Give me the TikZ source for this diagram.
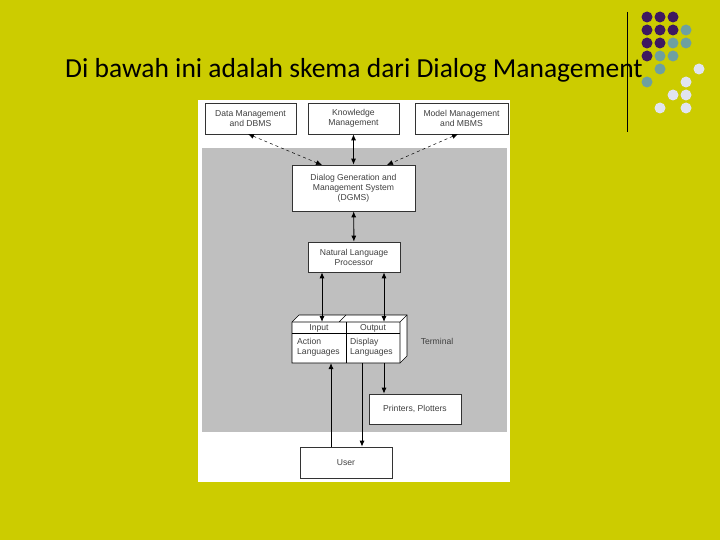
\documentclass[tikz,border=0pt]{standalone}
\usepackage{fontspec}
\usetikzlibrary{arrows.meta}
\setmainfont{Carlito}
\newfontfamily\dg{Liberation Sans}
\definecolor{bgy}{RGB}{204,204,0}
\definecolor{pdc}{RGB}{62,24,96}
\definecolor{tdc}{RGB}{110,160,160}
\definecolor{wdc}{RGB}{225,228,240}
\begin{document}
\begin{tikzpicture}[x=1pt,y=-1pt,
  bx/.style={draw=black!80,fill=white,line width=0.6pt,font=\dg\fontsize{8.6}{10}\selectfont,text=black!75,align=center,inner sep=0pt},
  lb/.style={font=\dg\fontsize{8.6}{10}\selectfont,text=black!75,inner sep=0},
  ar/.style={-{Latex[length=6pt,width=5pt]},line width=0.9pt},
  dar/.style={{Latex[length=6pt,width=5pt]}-{Latex[length=6pt,width=5pt]},line width=0.9pt},
  das/.style={{Latex[length=6pt,width=5pt]}-{Latex[length=6pt,width=5pt]},line width=0.5pt,dashed},
  pd/.style={fill=pdc,draw=none},
  td/.style={fill=tdc,draw=none},
  wd/.style={fill=wdc,draw=none}]
\useasboundingbox (0,0) rectangle (720,540);
\fill[bgy] (0,0) rectangle (720,540);
\node[anchor=base west,font=\fontsize{27.5}{32}\selectfont,inner sep=0] (title) at (65,78) {Di bawah ini adalah skema dari Dialog Management};
\draw[line width=1pt] (627,12) coordinate (l1) -- (627,132) coordinate (l2);
\foreach \x/\y in {647/17,660/17,673/17,647/30,660/30,673/30,647/43,660/43,647/56} \fill[pd] (\x,\y) circle (5.5);
\foreach \x/\y in {686/30,673/43,686/43,660/56,673/56,660/69,647/82} \fill[td] (\x,\y) circle (5.5);
\foreach \x/\y in {699/69,686/82,673/95,686/95,660/108,686/108} \fill[wd] (\x,\y) circle (5.5);
\fill[white] (198,100) rectangle (510,482);
\fill[black!25] (202,148) rectangle (507,432);
\node[bx,minimum width=91,minimum height=31] (dm) at (250.5,118.5) {Data Management\\and DBMS};
\node[bx,minimum width=91,minimum height=31] (km) at (353.5,118.5) {Knowledge\\Management};
\node[bx,minimum width=93,minimum height=31] (mm) at (461.5,118.5) {Model Management\\and MBMS};
\node[bx,minimum width=123,minimum height=46] (dg) at (353.5,188) {Dialog Generation and\\Management System\\(DGMS)};
\node[bx,minimum width=92,minimum height=30] (nl) at (354,257) {Natural Language\\Processor};
\node[bx,minimum width=92,minimum height=30] (pp) at (415,409) {Printers, Plotters};
\node[bx,minimum width=92,minimum height=31] (us) at (346,462.5) {User};
% terminal box
\draw[line width=0.6pt,fill=white] (292,322) -- (299,315) -- (407,315) -- (407,356) -- (400,363) -- (292,363) -- cycle;
\draw[line width=0.6pt] (292,322) -- (400,322) -- (400,363) (400,322) -- (407,315) (346,315) -- (339,322);
\draw[line width=0.6pt] (292,333) -- (400,333) (346,322) -- (346,363);
\node[lb] (in) at (319,328) {Input};
\node[lb] (out) at (373,328) {Output};
\node[lb,align=left,anchor=north west] (al) at (297,338) {Action\\Languages};
\node[lb,align=left,anchor=north west] (dl) at (350,338) {Display\\Languages};
\node[lb] (term) at (437,341) {Terminal};
\coordinate (ti1) at (322,322); \coordinate (ti2) at (384,322);
\coordinate (bi) at (331,363); \coordinate (bo) at (362,363); \coordinate (bp) at (384,363);
\coordinate (d1) at (248,134); \coordinate (d2) at (322,165);
\coordinate (m1) at (458,134); \coordinate (m2) at (387,165);
\draw[das] (d1) -- (d2);
\draw[dar] (km) -- (dg);
\draw[das] (m1) -- (m2);
\draw[dar] (dg) -- (nl);
\draw[dar] (nl.south -| ti1) -- (ti1);
\draw[dar] (nl.south -| ti2) -- (ti2);
\draw[ar] (us.north -| bi) -- (bi);
\draw[ar] (bo) -- (us.north -| bo);
\draw[ar] (bp) -- (pp.north -| bp);
\end{tikzpicture}
\end{document}
